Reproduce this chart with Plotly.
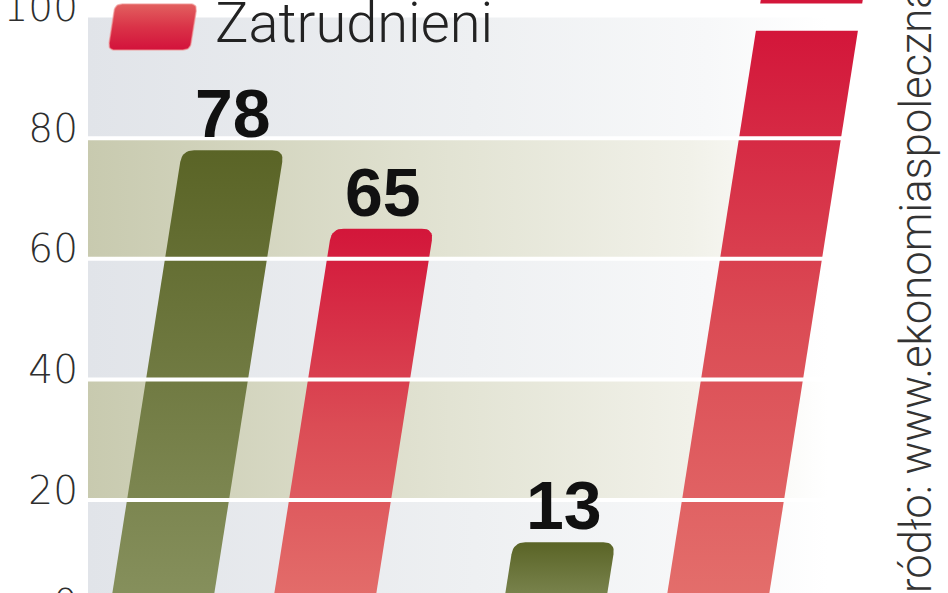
import math
import plotly.graph_objects as go

# ---------------- data ----------------
categories = ["Grupa 1", "Grupa 2"]          # category names are outside the visible crop
green_values = [78, 13]                      # series 1 (olive)
red_values = [65, 125]                       # "Zatrudnieni" (second value runs past the axis break)
tick_values = [20, 40, 60, 80, 100]
tick_labels = ["20", "40", "60", "80", "100"]
zero_label = "0"
legend_label = "Zatrudnieni"
source_text = "Źródło: www.ekonomiaspoleczna.pl"

# ---------------- layout constants ----------------
W, H = 948, 593
ML = 88
PW = W - ML
Y_MIN, Y_MAX = 4.6, 102.9
PPU = H / (Y_MAX - Y_MIN)          # pixels per value unit
GROUP_X = [152, 545]               # group centres (x units = plot pixels) at value 0
OFFSET = 81
BAR_W = 102
SLANT = 0.95                       # x shift per value unit
RADIUS = 12
BREAK_LO, BREAK_HI = 97.8, 102.3

GREEN_SCALE = [[0, "#88925f"], [0.5, "#717b43"], [1, "#5a6426"]]
RED_SCALE = [[0, "#e4716d"], [0.5, "#db4c55"], [1, "#d3163a"]]
SWATCH_SCALE = [[0, "#d3123b"], [0.5, "#da3348"], [1, "#e2605f"]]

slope = SLANT / PPU                # x px per y px


def to_px(v):
    return (Y_MAX - v) * PPU


def to_val(py):
    return Y_MAX - py / PPU


def bez(p0, p1, p2, n=8):
    pts = []
    for i in range(n + 1):
        t = i / n
        x = (1 - t) ** 2 * p0[0] + 2 * (1 - t) * t * p1[0] + t ** 2 * p2[0]
        y = (1 - t) ** 2 * p0[1] + 2 * (1 - t) * t * p1[1] + t ** 2 * p2[1]
        pts.append((x, y))
    return pts


def slanted_block(xl_bot, xr_bot, y_bot_px, y_top_px, r_top, r_bot=0):
    """Rounded parallelogram in (x units, pixel-y) space -> (xs, values)."""
    h = y_bot_px - y_top_px
    BL = (xl_bot, y_bot_px)
    BR = (xr_bot, y_bot_px)
    TR = (xr_bot + slope * h, y_top_px)
    TL = (xl_bot + slope * h, y_top_px)
    corners = [(BL, r_bot), (BR, r_bot), (TR, r_top), (TL, r_top)]
    pts = []
    for k, (c, r) in enumerate(corners):
        if r <= 0:
            pts.append(c)
            continue
        pv = corners[k - 1][0]
        nx = corners[(k + 1) % 4][0]
        dp = math.hypot(pv[0] - c[0], pv[1] - c[1])
        dn = math.hypot(nx[0] - c[0], nx[1] - c[1])
        a = (c[0] + (pv[0] - c[0]) * r / dp, c[1] + (pv[1] - c[1]) * r / dp)
        b = (c[0] + (nx[0] - c[0]) * r / dn, c[1] + (nx[1] - c[1]) * r / dn)
        pts += bez(a, c, b)
    pts.append(pts[0])
    return [p[0] for p in pts], [to_val(p[1]) for p in pts]


def bar_polygon(cx0, v_lo, v_hi, rounded=True):
    xl0 = cx0 + SLANT * v_lo - BAR_W / 2
    return slanted_block(xl0, xl0 + BAR_W, to_px(v_lo), to_px(v_hi), RADIUS if rounded else 0)


fig = go.Figure()

# background bands with horizontal fade
LIGHT = [[0, "#e1e4e9"], [0.45, "#eef0f2"], [0.72, "#f7f8f9"], [0.86, "#ffffff"], [1, "#ffffff"]]
OLIVE = [[0, "#c8caaf"], [0.42, "#e2e3d3"], [0.7, "#f1f1e9"], [0.86, "#ffffff"], [1, "#ffffff"]]
band_defs = [(0, 20, LIGHT), (20, 40, OLIVE), (40, 60, LIGHT), (60, 80, OLIVE), (80, 100, LIGHT)]
for lo, hi, cs in band_defs:
    fig.add_trace(go.Scatter(
        x=[0, PW, PW, 0, 0], y=[lo, lo, hi, hi, lo], mode="lines",
        fill="toself", line=dict(width=0, color="rgba(0,0,0,0)"),
        fillgradient=dict(type="horizontal", colorscale=cs, start=0, stop=PW),
        hoverinfo="skip", showlegend=False))

# bars
for i, cat in enumerate(categories):
    gx = GROUP_X[i] - OFFSET
    rx = GROUP_X[i] + OFFSET
    gv = green_values[i]
    xs, ys = bar_polygon(gx, 0, gv)
    fig.add_trace(go.Scatter(
        x=xs, y=ys, mode="lines", fill="toself",
        line=dict(width=0, color="rgba(0,0,0,0)"),
        fillgradient=dict(type="vertical", colorscale=GREEN_SCALE, start=0, stop=gv),
        name=cat, hoverinfo="skip", showlegend=False))
    rv = red_values[i]
    if rv > BREAK_LO:
        xs, ys = bar_polygon(rx, 0, BREAK_LO, rounded=False)
        fig.add_trace(go.Scatter(
            x=xs, y=ys, mode="lines", fill="toself",
            line=dict(width=0, color="rgba(0,0,0,0)"),
            fillgradient=dict(type="vertical", colorscale=RED_SCALE, start=0, stop=BREAK_LO),
            name=legend_label, hoverinfo="skip", showlegend=False))
        xs, ys = bar_polygon(rx, BREAK_HI, rv, rounded=True)
        fig.add_trace(go.Scatter(
            x=xs, y=ys, mode="lines", fill="toself",
            line=dict(width=0, color="rgba(0,0,0,0)"), fillcolor="#d3163a",
            name=legend_label, hoverinfo="skip", showlegend=False))
    else:
        xs, ys = bar_polygon(rx, 0, rv)
        fig.add_trace(go.Scatter(
            x=xs, y=ys, mode="lines", fill="toself",
            line=dict(width=0, color="rgba(0,0,0,0)"),
            fillgradient=dict(type="vertical", colorscale=RED_SCALE, start=0, stop=rv),
            name=legend_label, hoverinfo="skip", showlegend=False))

# legend swatch (slanted rounded block with its own gradient)
sx, sy = slanted_block(108 - ML, 190 - ML, 50, 4, 7, 7)
fig.add_trace(go.Scatter(
    x=sx, y=sy, mode="lines", fill="toself",
    line=dict(width=1.5, color="rgba(240,150,150,0.6)"),
    fillgradient=dict(type="vertical", colorscale=SWATCH_SCALE),
    hoverinfo="skip", showlegend=False))

# value labels
label_font = dict(family="Liberation Sans", size=68, color="#111111", weight="bold")
annotations = []
for i in range(len(categories)):
    gx = GROUP_X[i] - OFFSET
    rx = GROUP_X[i] + OFFSET
    for cx, v in ((gx, green_values[i]), (rx, red_values[i])):
        if v <= 100:
            annotations.append(dict(x=cx + SLANT * v, y=v, xref="x", yref="y",
                                    text=str(v), showarrow=False, xanchor="center",
                                    yanchor="bottom", yshift=-3, font=label_font))

TICK_FONT = dict(family="DejaVu Sans", size=39, color="#2e2e2e", weight=200)

# "0" tick label that sits below the visible range
annotations.append(dict(x=0, y=(H - 604) / H, xref="paper", yref="paper", text=zero_label,
                        showarrow=False, xanchor="right", yanchor="middle", xshift=-8,
                        font=TICK_FONT))

# legend text
annotations.append(dict(x=(213 - ML) / PW, y=(H - 23) / H, xref="paper", yref="paper",
                        text=legend_label, showarrow=False, xanchor="left", yanchor="middle",
                        font=dict(family="Roboto", size=56, color="#222222", weight=300)))

# source text
annotations.append(dict(x=(916 - ML) / PW, y=(H - 621) / H, xref="paper", yref="paper",
                        text=source_text, showarrow=False, textangle=-90,
                        xanchor="center", yanchor="bottom",
                        font=dict(family="Roboto", size=43.6, color="#333333", weight=300)))

shapes = []
for v in tick_values[:-1]:
    shapes.append(dict(type="line", xref="paper", yref="y", x0=0, x1=1, y0=v, y1=v,
                       line=dict(color="#ffffff", width=4), layer="above"))

fig.update_layout(
    width=W, height=H, template="none",
    margin=dict(l=ML, r=0, t=0, b=0, pad=0),
    paper_bgcolor="#ffffff", plot_bgcolor="#ffffff",
    showlegend=False,
    xaxis=dict(range=[0, PW], visible=False, fixedrange=True),
    yaxis=dict(range=[Y_MIN, Y_MAX], tickvals=tick_values, ticktext=tick_labels,
               showgrid=False, zeroline=False, showline=False, ticks="",
               ticklabelshift=-10, ticklabelstandoff=9, ticklabeloverflow="allow",
               automargin=False, fixedrange=True, tickfont=TICK_FONT),
    annotations=annotations,
    shapes=shapes,
)

fig.write_html("out.html", config={"displayModeBar": False},
               post_script="document.body.style.margin='0px';document.body.style.overflow='hidden';")
